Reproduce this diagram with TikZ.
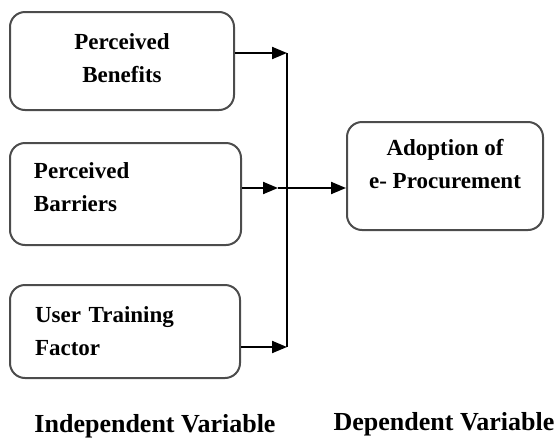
\documentclass[tikz,border=0pt]{standalone}
\usepackage{fontspec}
\setmainfont{Liberation Serif}
\usetikzlibrary{arrows.meta}
\begin{document}
\begin{tikzpicture}[x=1pt,y=-1pt,font=\bfseries\fontsize{23}{33}\selectfont,
	box/.style={draw=black!70,line width=2pt,rounded corners=15pt,inner sep=0pt},
	arrow/.style={-{Triangle[length=15pt,width=12pt]},line width=2pt},
	lbl/.style={font=\bfseries\fontsize{26}{30}\selectfont,anchor=base,inner sep=0pt}]
	\useasboundingbox (0,0) rectangle (560,437);
	% independent variables
	\node[box,minimum width=224pt,minimum height=98pt,align=center,text depth=6pt] (ben) at (122,61) {Perceived\\Benefits};
	\node[box,minimum width=231pt,minimum height=102pt,text width=183pt,align=left,text depth=46pt] (bar) at (125.5,194) {Perceived\\Barriers};
	\node[box,minimum width=230pt,minimum height=93pt,text width=180pt,align=left] (trn) at (125,331.5) {User Training\\Factor};
	% dependent variable
	\node[box,minimum width=196pt,minimum height=108pt] (adp) at (445,176) {};
	\node[anchor=north,inner sep=0pt,align=center] (adptxt) at (445,139) {Adoption of\\e- Procurement};
	% connectors
	\coordinate (j1) at (287,53);
	\coordinate (j2) at (287,188);
	\coordinate (j3) at (287,347);
	\coordinate (h2) at (278,188);
	\draw[arrow] (ben.east|-j1)--(j1);
	\draw[arrow] (bar.east|-j2)--(h2);
	\draw[arrow] (trn.east|-j3)--(j3);
	\draw[line width=2pt] (j1)--(j3) (h2)--(j2);
	\draw[arrow] (j2)--(adp.west|-j2);
	% captions
	\node[lbl] (indep) at (155,432) {Independent Variable};
	\node[lbl] (dep) at (444,430) {Dependent Variable};
\end{tikzpicture}
\end{document}
